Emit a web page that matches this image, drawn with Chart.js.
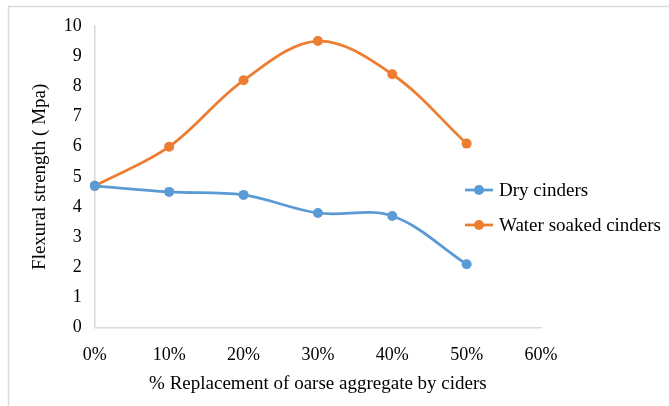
<!DOCTYPE html>
<html>
<head>
<meta charset="utf-8">
<script src="https://cdn.jsdelivr.net/npm/chart.js@4/dist/chart.umd.min.js"></script>
<style>
  html, body { margin: 0; padding: 0; background: #fff; }
  #wrap { width: 669px; height: 406px; }
</style>
</head>
<body>
<div id="wrap"><canvas id="chart"></canvas></div>
<script>
// data
const xLabels = ['0%', '10%', '20%', '30%', '40%', '50%', '60%'];
const dryCinders = [4.7, 4.5, 4.4, 3.8, 3.7, 2.1];
const waterSoaked = [4.7, 6.0, 8.2, 9.5, 8.4, 6.1];
const yTicks = [0, 1, 2, 3, 4, 5, 6, 7, 8, 9, 10];

const BLUE = '#5B9BD5';
const ORANGE = '#ED7D31';
const AXIS = '#d9d9d9';
const SERIF = "'Liberation Serif', 'Times New Roman', serif";

Chart.defaults.font.family = SERIF;
Chart.defaults.color = '#000';

// frame + white background (only left/top edges are inside the window)
const framePlugin = {
  id: 'frame',
  beforeDraw(chart) {
    const c = chart.ctx;
    c.save();
    c.fillStyle = '#fff';
    c.fillRect(0, 0, chart.width, chart.height);
    c.strokeStyle = AXIS;
    c.lineWidth = 1.5;
    c.beginPath();
    c.moveTo(8.5, chart.height + 5);
    c.lineTo(8.5, 6.5);
    c.lineTo(chart.width + 5, 6.5);
    c.stroke();
    c.restore();
  }
};

// excel-like legend with line + marker, overlapping plot on the right
const legendPlugin = {
  id: 'sideLegend',
  afterDraw(chart) {
    const c = chart.ctx;
    const items = chart.data.datasets;
    const x0 = 465, y0 = 190, gap = 35;
    c.save();
    c.font = '19px ' + SERIF;
    c.textBaseline = 'middle';
    items.forEach((ds, i) => {
      const y = y0 + i * gap;
      c.strokeStyle = ds.borderColor;
      c.lineWidth = 2.75;
      c.beginPath();
      c.moveTo(x0, y);
      c.lineTo(x0 + 28, y);
      c.stroke();
      c.fillStyle = ds.borderColor;
      c.beginPath();
      c.arc(x0 + 14, y, 5, 0, Math.PI * 2);
      c.fill();
      c.fillStyle = '#000';
      c.fillText(ds.label, x0 + 34, y + 1);
    });
    c.restore();
  }
};

new Chart(document.getElementById('chart'), {
  type: 'line',
  data: {
    labels: xLabels,
    datasets: [
      {
        label: 'Dry cinders',
        data: dryCinders,
        borderColor: BLUE,
        backgroundColor: BLUE,
        borderWidth: 2.75,
        pointRadius: 5,
        pointBorderWidth: 0,
        tension: 0.35
      },
      {
        label: 'Water soaked cinders',
        data: waterSoaked,
        borderColor: ORANGE,
        backgroundColor: ORANGE,
        borderWidth: 2.75,
        pointRadius: 5,
        pointBorderWidth: 0,
        tension: 0.35
      }
    ]
  },
  options: {
    responsive: true,
    maintainAspectRatio: false,
    animation: false,
    layout: { padding: { left: 29, right: 128, top: 26, bottom: 11 } },
    plugins: {
      legend: { display: false },
      tooltip: { enabled: false }
    },
    scales: {
      x: {
        offset: false,
        grid: { display: false, drawTicks: false },
        border: { color: AXIS, width: 1.5 },
        ticks: { font: { size: 18 }, padding: 17, maxRotation: 0 },
        title: {
          display: true,
          text: '% Replacement of oarse aggregate by ciders',
          font: { size: 19 },
          // tick padding is counted twice when the axis is sized
          padding: { top: -11, bottom: 0 }
        }
      },
      y: {
        min: 0,
        max: 10,
        afterBuildTicks(axis) { axis.ticks = yTicks.map(v => ({ value: v })); },
        grid: { display: false, drawTicks: false },
        border: { color: AXIS, width: 1.5 },
        ticks: { font: { size: 18 }, padding: 13 },
        title: {
          display: true,
          text: 'Flexural strength ( Mpa)',
          font: { size: 19 },
          padding: { top: 0, bottom: -1 }
        }
      }
    }
  },
  plugins: [framePlugin, legendPlugin]
});
</script>
</body>
</html>
